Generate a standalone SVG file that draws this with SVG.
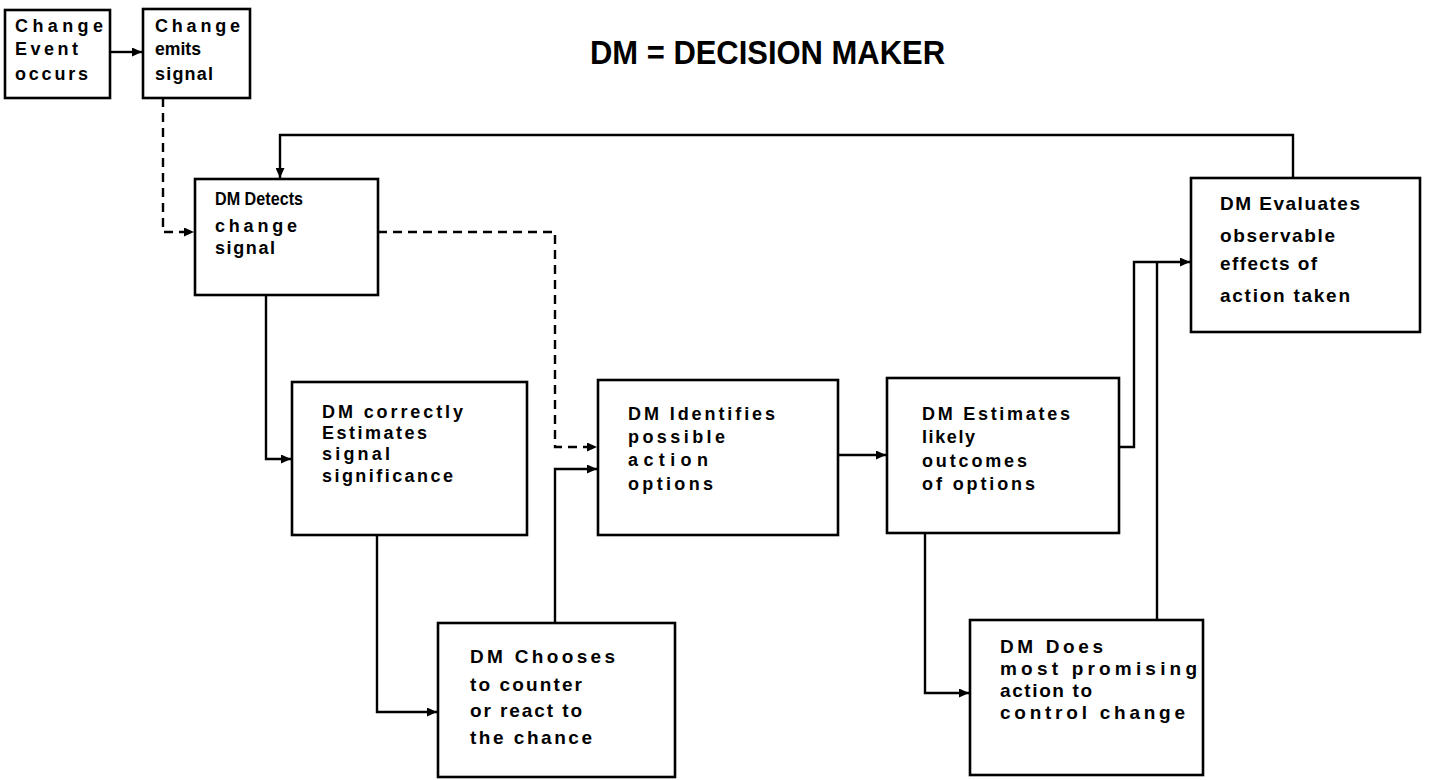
<svg xmlns="http://www.w3.org/2000/svg" width="1429" height="780" viewBox="0 0 1429 780">
<style>
.box{fill:#fff;stroke:#000;stroke-width:2.6}
.t{font-family:"Liberation Sans",Arial,sans-serif;font-weight:bold;font-size:18px;fill:#000}
.big{font-size:19px}
.c{fill:none;stroke:#000;stroke-width:2.4}
.d{stroke-dasharray:9 6}
.title{font-family:"Liberation Sans",Arial,sans-serif;font-weight:bold;font-size:34px;fill:#000}
</style>
<defs>
<marker id="ah" markerUnits="userSpaceOnUse" markerWidth="11" markerHeight="9" refX="10" refY="4.5" orient="auto">
<path d="M0,0 L10,4.5 L0,9 z" fill="#000"/>
</marker>
</defs>
<rect width="1429" height="780" fill="#fff"/>
<text class="title" x="590" y="64" textLength="355" lengthAdjust="spacingAndGlyphs">DM = DECISION MAKER</text>
<g id="connectors">
<path class="c" d="M110,52 H142" marker-end="url(#ah)"/>
<path class="c d" d="M163,98 V232 H194" marker-end="url(#ah)"/>
<path class="c" d="M1293,178 V135 H280 V178" marker-end="url(#ah)"/>
<path class="c d" d="M378,232 H555 V447 H597" marker-end="url(#ah)"/>
<path class="c" d="M266,295 V459 H291" marker-end="url(#ah)"/>
<path class="c" d="M377,535 V712 H437" marker-end="url(#ah)"/>
<path class="c" d="M555,623 V469 H597" marker-end="url(#ah)"/>
<path class="c" d="M838,455 H886" marker-end="url(#ah)"/>
<path class="c" d="M1119,447 H1134 V262 H1190" marker-end="url(#ah)"/>
<path class="c" d="M1157,620 V262"/>
<path class="c" d="M925,533 V693 H969" marker-end="url(#ah)"/>
</g>
<g id="n1">
<rect class="box" x="5" y="10" width="105" height="88"/>
<text class="t" x="15" y="32" textLength="88" lengthAdjust="spacing">Change</text>
<text class="t" x="15" y="55" textLength="63" lengthAdjust="spacing">Event</text>
<text class="t" x="15" y="80" textLength="73" lengthAdjust="spacing">occurs</text>
</g>
<g id="n2">
<rect class="box" x="143" y="9" width="107" height="89"/>
<text class="t" x="155" y="32" textLength="85" lengthAdjust="spacing">Change</text>
<text class="t" x="155" y="55" textLength="46" lengthAdjust="spacingAndGlyphs">emits</text>
<text class="t" x="155" y="80" textLength="58" lengthAdjust="spacing">signal</text>
</g>
<g id="n3">
<rect class="box" x="195" y="179" width="183" height="116"/>
<text class="t" x="215" y="205" textLength="88" lengthAdjust="spacingAndGlyphs">DM Detects</text>
<text class="t" x="215" y="232" textLength="82" lengthAdjust="spacing">change</text>
<text class="t" x="215" y="254" textLength="60" lengthAdjust="spacing">signal</text>
</g>
<g id="n4">
<rect class="box" x="292" y="382" width="235" height="153"/>
<text class="t" x="322" y="418" textLength="141" lengthAdjust="spacing">DM correctly</text>
<text class="t" x="322" y="439" textLength="105" lengthAdjust="spacing">Estimates</text>
<text class="t" x="322" y="460" textLength="68" lengthAdjust="spacing">signal</text>
<text class="t" x="322" y="482" textLength="131" lengthAdjust="spacing">significance</text>
</g>
<g id="n5">
<rect class="box" x="598" y="380" width="240" height="155"/>
<text class="t" x="628" y="420" textLength="147" lengthAdjust="spacing">DM Identifies</text>
<text class="t" x="628" y="443" textLength="97" lengthAdjust="spacing">possible</text>
<text class="t" x="628" y="466" textLength="80" lengthAdjust="spacing">action</text>
<text class="t" x="628" y="490" textLength="85" lengthAdjust="spacing">options</text>
</g>
<g id="n6">
<rect class="box" x="887" y="378" width="232" height="155"/>
<text class="t" x="922" y="420" textLength="148" lengthAdjust="spacing">DM Estimates</text>
<text class="t" x="922" y="443" textLength="53" lengthAdjust="spacing">likely</text>
<text class="t" x="922" y="467" textLength="105" lengthAdjust="spacing">outcomes</text>
<text class="t" x="922" y="490" textLength="113" lengthAdjust="spacing">of options</text>
</g>
<g id="n7">
<rect class="box" x="438" y="623" width="237" height="154"/>
<text class="t big" x="470" y="663" textLength="145" lengthAdjust="spacing">DM Chooses</text>
<text class="t big" x="470" y="691" textLength="112" lengthAdjust="spacing">to counter</text>
<text class="t big" x="470" y="717" textLength="112" lengthAdjust="spacing">or react to</text>
<text class="t big" x="470" y="744" textLength="122" lengthAdjust="spacing">the chance</text>
</g>
<g id="n8">
<rect class="box" x="970" y="620" width="233" height="155"/>
<text class="t big" x="1000" y="653" textLength="103" lengthAdjust="spacing">DM Does</text>
<text class="t big" x="1000" y="675" textLength="197" lengthAdjust="spacing">most promising</text>
<text class="t big" x="1000" y="697" textLength="92" lengthAdjust="spacing">action to</text>
<text class="t big" x="1000" y="719" textLength="185" lengthAdjust="spacing">control change</text>
</g>
<g id="n9">
<rect class="box" x="1191" y="178" width="229" height="154"/>
<text class="t big" x="1220" y="210" textLength="140" lengthAdjust="spacing">DM Evaluates</text>
<text class="t big" x="1220" y="242" textLength="115" lengthAdjust="spacing">observable</text>
<text class="t big" x="1220" y="270" textLength="97" lengthAdjust="spacing">effects of</text>
<text class="t big" x="1220" y="302" textLength="130" lengthAdjust="spacing">action taken</text>
</g>
</svg>
